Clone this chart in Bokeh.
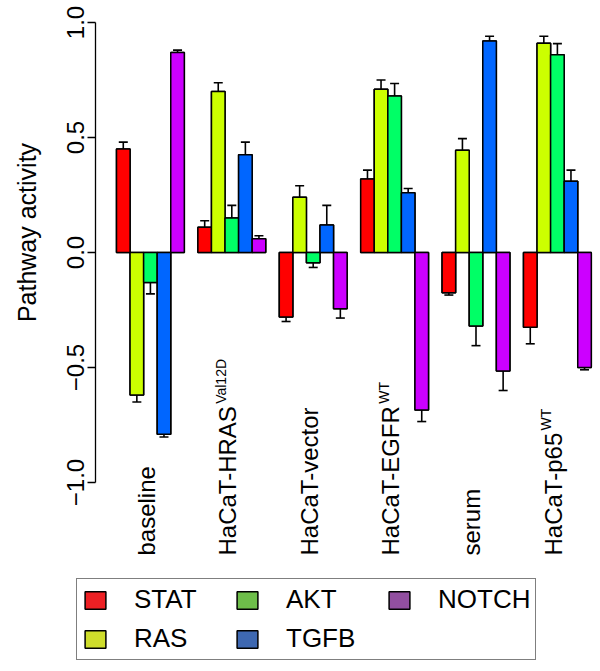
import math
from bokeh.plotting import figure
from bokeh.models import (Range1d, FixedTicker, ColumnDataSource, Whisker, TeeHead,
                          Label, Legend, LegendItem)
from bokeh.embed import file_html
from bokeh.resources import INLINE

# ---------------- data ----------------
groups = ["baseline", "HaCaT-HRAS", "HaCaT-vector", "HaCaT-EGFR", "serum", "HaCaT-p65"]
group_sups = ["", "Val12D", "", "WT", "", "WT"]
pathways = ["STAT", "RAS", "AKT", "TGFB", "NOTCH"]

STAT = [0.45, 0.11, -0.28, 0.32, -0.175, -0.325]
STAT_err = [0.03, 0.028, 0.02, 0.038, 0.01, 0.072]
RAS = [-0.62, 0.70, 0.24, 0.71, 0.445, 0.91]
RAS_err = [0.03, 0.038, 0.05, 0.04, 0.05, 0.03]
AKT = [-0.13, 0.15, -0.045, 0.68, -0.32, 0.86]
AKT_err = [0.05, 0.055, 0.02, 0.055, 0.085, 0.048]
TGFB = [-0.79, 0.425, 0.12, 0.26, 0.92, 0.31]
TGFB_err = [0.012, 0.055, 0.085, 0.018, 0.02, 0.048]
NOTCH = [0.87, 0.06, -0.245, -0.685, -0.515, -0.50]
NOTCH_err = [0.01, 0.013, 0.04, 0.05, 0.085, 0.01]

values = [STAT, RAS, AKT, TGFB, NOTCH]
errors = [STAT_err, RAS_err, AKT_err, TGFB_err, NOTCH_err]

bar_colors = ["#FF0000", "#CCFF00", "#00FF66", "#0066FF", "#CC00FF"]
legend_colors = ["#ED2024", "#CEDC2B", "#6EBE4A", "#3E68B1", "#924FA0"]

y_ticks = [-1.0, -0.5, 0.0, 0.5, 1.0]
y_tick_labels = ["\u22121.0", "\u22120.5", "0.0", "0.5", "1.0"]
y_title = "Pathway activity"

FONT = "Liberation Sans"

# ---------------- layout helpers (pixel -> data) ----------------
W, H = 600, 671
PX_PER_BAR = 13.566      # pixels per bar width
X_FIRST_BAR = 116.0      # pixel where first bar starts (bar unit 1)
PX_PER_UNIT = 230.0      # pixels per 1.0 of activity
Y_ONE = 22.0             # pixel of activity 1.0


def xd(px):
    return 1 + (px - X_FIRST_BAR) / PX_PER_BAR


def yd(py):
    return 1 - (py - Y_ONE) / PX_PER_UNIT


p = figure(width=W, height=H, output_backend="svg", toolbar_location=None,
           x_range=Range1d(xd(0), xd(W)), y_range=Range1d(yd(H), yd(0)),
           x_axis_location=None, y_axis_location="left",
           min_border_left=0, min_border_right=0, min_border_top=0,
           min_border_bottom=0)
p.outline_line_color = None
p.xgrid.visible = False
p.ygrid.visible = False
p.background_fill_color = "white"
p.border_fill_color = "white"

ax = p.yaxis[0]
ax.fixed_location = xd(95)
ax.bounds = (-1, 1)
ax.ticker = FixedTicker(ticks=y_ticks)
ax.major_label_overrides = {t: l for t, l in zip(y_ticks, y_tick_labels)}
ax.major_label_orientation = "vertical"
ax.major_label_text_font = FONT
ax.major_label_text_font_size = "24px"
ax.major_label_text_color = "black"
ax.major_label_standoff = 4
ax.major_tick_out = 8
ax.major_tick_in = 0
ax.minor_tick_out = 0
ax.minor_tick_in = 0
ax.axis_line_width = 1.3
ax.major_tick_line_width = 1.3

p.add_layout(Label(x=xd(26), y=yd(232), text=y_title, angle=math.pi / 2,
                   text_align="center", text_baseline="alphabetic",
                   text_font=FONT, text_font_size="25px", text_color="black"))

# ---------------- bars + error bars ----------------
n_ser = len(pathways)
sources = []
for s, (vals, errs) in enumerate(zip(values, errors)):
    xs = [1 + (n_ser + 1) * g + s + 0.5 for g in range(len(groups))]
    sources.append(ColumnDataSource(dict(x=xs, top=vals,
                                         upper=[v + e for v, e in zip(vals, errs)],
                                         lower=[v - e for v, e in zip(vals, errs)])))

# legend swatch renderers (same bars, hidden beneath the real ones)
legend_items = []
for name, src, lcol in zip(pathways, sources, legend_colors):
    r = p.vbar(x="x", top="top", bottom=0, width=1.0, source=src,
               fill_color=lcol, line_color="black", line_width=1.5)
    legend_items.append(LegendItem(label=name, renderers=[r]))

for src, col in zip(sources, bar_colors):
    p.vbar(x="x", top="top", bottom=0, width=1.0, source=src,
           fill_color=col, line_color="black", line_width=1.5)
    p.add_layout(Whisker(source=src, base="x", upper="upper", lower="lower",
                         line_color="black", line_width=1.6,
                         upper_head=TeeHead(size=9, line_width=1.6, line_color="black"),
                         lower_head=TeeHead(size=9, line_width=1.6, line_color="black")))

# ---------------- group labels (rotated, bottom aligned) ----------------
AW = {'H': .722, 'a': .556, 'C': .722, 'T': .611, '-': .333, 'R': .722, 'A': .667,
      'S': .667, 'v': .5, 'e': .556, 'c': .5, 't': .278, 'o': .556, 'r': .333,
      'E': .667, 'G': .778, 'F': .611, 'p': .556, '6': .556, '5': .556, 'b': .556,
      's': .5, 'l': .222, 'i': .222, 'n': .556, 'u': .556, 'm': .833}
MAIN_PX = 24
label_y = yd(555)
for g, (name, sup) in enumerate(zip(groups, group_sups)):
    gc = 1 + (n_ser + 1) * g + n_ser / 2
    p.add_layout(Label(x=gc, y=label_y, text=name, angle=math.pi / 2,
                       text_align="left", text_baseline="alphabetic",
                       x_offset=-4, text_font=FONT, text_font_size=f"{MAIN_PX}px",
                       text_color="black"))
    if sup:
        L = sum(AW.get(ch, .556) for ch in name) * MAIN_PX
        p.add_layout(Label(x=gc, y=label_y + (L + 1) / PX_PER_UNIT, text=sup,
                           angle=math.pi / 2, text_align="left",
                           text_baseline="alphabetic", x_offset=-11,
                           text_font=FONT, text_font_size="14px",
                           text_color="black"))

# ---------------- legend ----------------
legend = Legend(items=legend_items, location=(76, 11), orientation="vertical", nrows=2,
                border_line_color="black", border_line_width=1.5,
                background_fill_color="white", background_fill_alpha=1,
                padding=5, spacing=8, margin=0,
                glyph_width=26, glyph_height=22, label_standoff=26,
                label_width=92, label_height=29,
                label_text_font=FONT, label_text_font_size="26px",
                label_text_color="black")
p.add_layout(legend)

open("out.html", "w").write(file_html(p, INLINE))
